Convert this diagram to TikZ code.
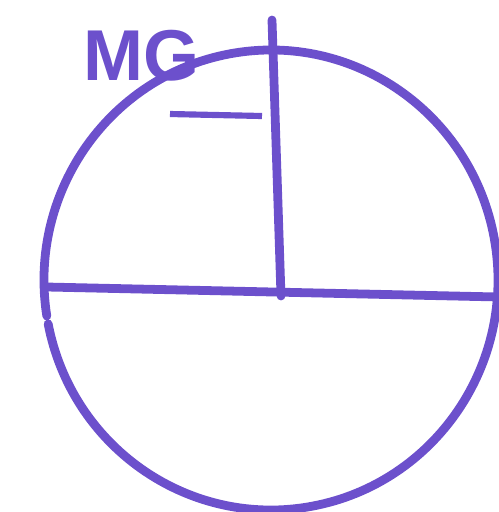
\documentclass[tikz,border=0pt]{standalone}
\usepackage{fontspec}
\setmainfont{Liberation Sans}
\usepackage{tikz}

\definecolor{pen}{RGB}{108,80,204}

\begin{document}
\begin{tikzpicture}[
    x=0.02cm, y=-0.02cm,
    stroke/.style={draw=pen, line width=5pt, line cap=round},
    label/.style={text=pen, font=\fontsize{41}{41}\selectfont\bfseries, inner sep=0pt}
]
\useasboundingbox (0,0) rectangle (499,512);

% points of the sketch
\coordinate (c) at (271,280);
\coordinate (left) at (47,287);
\coordinate (right) at (499,297);
\coordinate (top) at (272,20);
\coordinate (foot) at (281,296);
\coordinate (dashL) at (170,114);
\coordinate (dashR) at (262,116);

% circle, with a small break on the left
\draw[stroke] (c) ++(171:227 and 230) arc[start angle=171, end angle=529, x radius=227, y radius=230];

% diameter and radius
\draw[stroke] (left) -- (right);
\draw[stroke] (top) -- (foot);

% label
\node[label] (mg) at (142,56) {MG};
\draw[draw=pen, line width=3.5pt] (dashL) -- (dashR);

\end{tikzpicture}
\end{document}
